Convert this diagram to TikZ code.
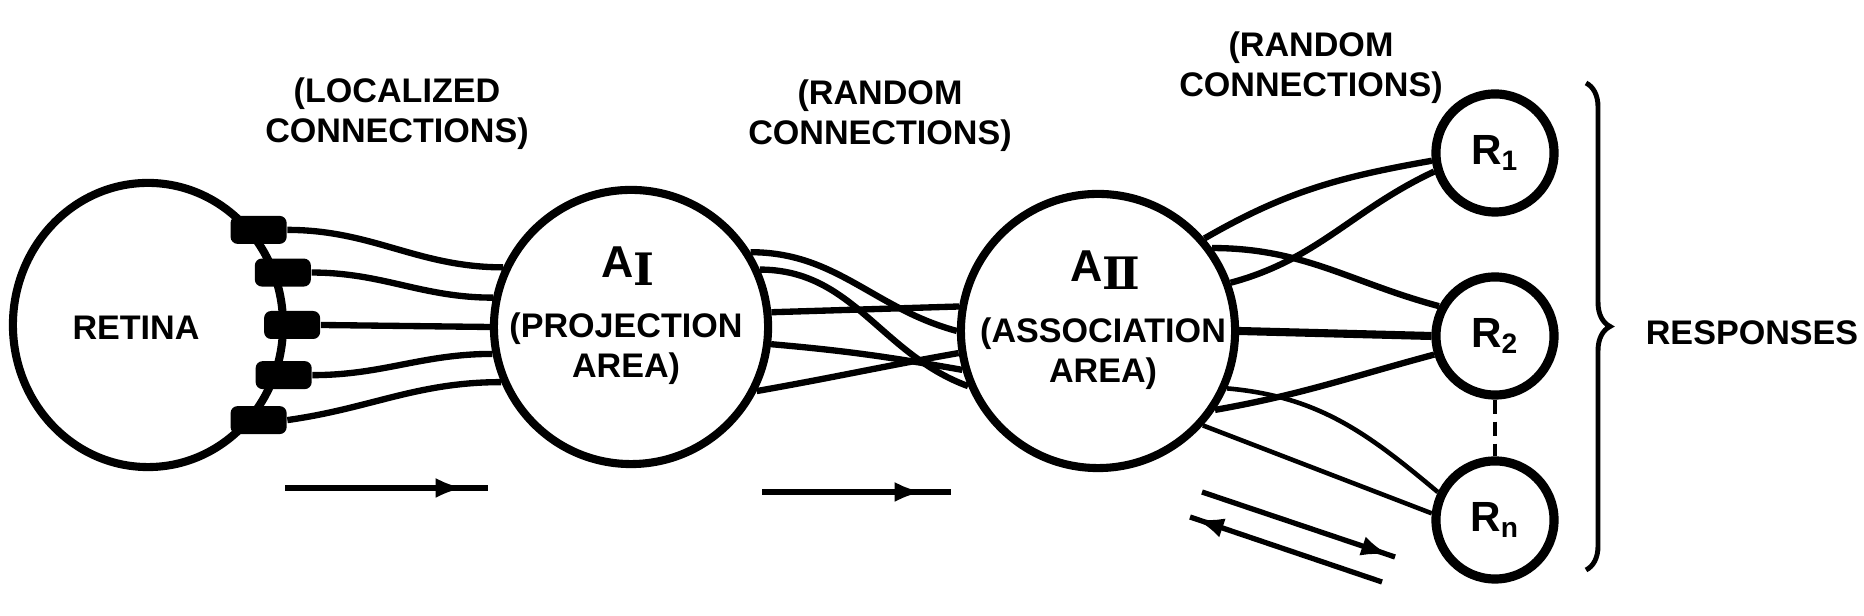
\documentclass[tikz,border=0pt]{standalone}
\usepackage{fontspec}
\setmainfont{Liberation Sans}
\newfontfamily\romfont{DejaVu Serif}
\usetikzlibrary{arrows.meta,positioning,shapes.geometric,decorations.pathreplacing,decorations.markings}

\tikzset{
  lbl/.style={font=\bfseries\fontsize{9.7}{11.4}\selectfont, align=center, inner sep=0pt},
  areaname/.style={font=\bfseries\fontsize{12.7}{12.7}\selectfont, inner sep=0pt},
  area/.style={circle, draw, line width=2.3pt, minimum size=2.74cm, inner sep=0pt},
  resp/.style={circle, draw, line width=2.6pt, minimum size=1.18cm, inner sep=0pt,
    font=\bfseries\fontsize{12}{12}\selectfont},
  blob/.style={rectangle, fill, rounded corners=0.07cm, minimum width=0.56cm,
    minimum height=0.28cm, inner sep=0pt, xshift=0.05cm},
  conn/.style={line width=1.8pt},
  thinconn/.style={line width=1.3pt},
  flow/.style={line width=1.5pt, postaction=decorate,
    decoration={markings, mark=at position #1 with {\arrow{Latex[length=0.28cm,width=0.2cm]}}}},
  flow/.default=1
}

\begin{document}
\begin{tikzpicture}[x=0.01cm, y=0.01cm]
\useasboundingbox (0,0) rectangle (1864,616);

% the three areas
\node[ellipse, draw, line width=2.3pt, minimum width=2.70cm, minimum height=2.84cm] (retina) at (148,291) {};
\node[lbl] (retinatxt) at (136,288) {RETINA};
\node[area] (ai) at (631,289) {};
\node[area] (aii) at (1098,285) {};
\node[areaname] (ainame) at (628,350) {A\raisebox{-0.35ex}{\romfont Ⅰ}};
\node[lbl] (aitxt) at (626,267) {(PROJECTION\\AREA)};
\node[areaname] (aiiname) at (1105,346) {A\raisebox{-0.35ex}{\romfont Ⅱ}};
\node[lbl] (aiitxt) at (1103,262) {(ASSOCIATION\\AREA)};

% responses
\node[resp] (r1) at (1495,463) {R\textsubscript{1}};
\node[resp] (r2) at (1495,280) {R\textsubscript{2}};
\node[resp] (rn) at (1495,96) {R\textsubscript{n}};
\draw[line width=1.2pt, dash pattern=on 0.14cm off 0.08cm] (r2.south) -- (rn.north);
\draw[line width=1.4pt, decorate, decoration={brace, amplitude=0.24cm}] (1586,533) -- (1586,46);
\node[lbl] (resptxt) at (1752,283) {RESPONSES};

% headings
\node[lbl] (loc) at (397,502) {(LOCALIZED\\CONNECTIONS)};
\node[lbl] (rand1) at (880,500) {(RANDOM\\CONNECTIONS)};
\node[lbl] (rand2) at (1311,548) {(RANDOM\\CONNECTIONS)};

% retina endings
\node[blob] (b1) at (retina.42) {};
\node[blob] (b2) at (retina.22) {};
\node[blob] (b3) at (retina.0) {};
\node[blob] (b4) at (retina.-21) {};
\node[blob] (b5) at (retina.-42) {};

% localized connections
\draw[conn] (b1.east) to[out=0,in=180] (ai.155);
\draw[conn] (b2.east) to[out=0,in=180] (ai.168);
\draw[conn] (b3.east) -- (ai.180);
\draw[conn] (b4.east) to[out=0,in=180] (ai.191);
\draw[conn] (b5.east) to[out=8,in=180] (ai.203);

% random connections AI -> AII
\draw[conn] (ai.32) to[out=0,in=165] (aii.180);
\draw[conn] (ai.24) to[out=0,in=160] (aii.203);
\draw[conn] (ai.6) -- (aii.170);
\draw[conn] (ai.-7) to[out=-5,in=170] (aii.196);
\draw[conn] (ai.-27) to[out=10,in=190] (aii.189);

% random connections AII -> R
\draw[conn] (aii.41) to[out=30,in=190] (r1.187);
\draw[conn] (aii.36) to[out=0,in=165] (r2.152);
\draw[conn] (aii.20) to[out=15,in=205] (r1.197);
\draw[line width=2.3pt] (aii.0) -- (r2.180);
\draw[thinconn] (aii.-24) to[out=-5,in=140] (rn.154);
\draw[conn] (aii.-34) to[out=10,in=195] (r2.197);
\draw[thinconn] (aii.-42) -- (rn.174);

% direction arrows
\coordinate (f1a) at (285,128);
\coordinate (f1b) at (488,128);
\draw[flow=0.88] (f1a) -- (f1b);
\coordinate (f2a) at (762,124);
\coordinate (f2b) at (951,124);
\draw[flow=0.85] (f2a) -- (f2b);
\coordinate (f3a) at (1202,124);
\coordinate (f3b) at (1395,59);
\draw[flow=0.97] (f3a) -- (f3b);
\coordinate (f4a) at (1382,34);
\coordinate (f4b) at (1190,99);
\draw[flow=0.97] (f4a) -- (f4b);
\end{tikzpicture}
\end{document}
